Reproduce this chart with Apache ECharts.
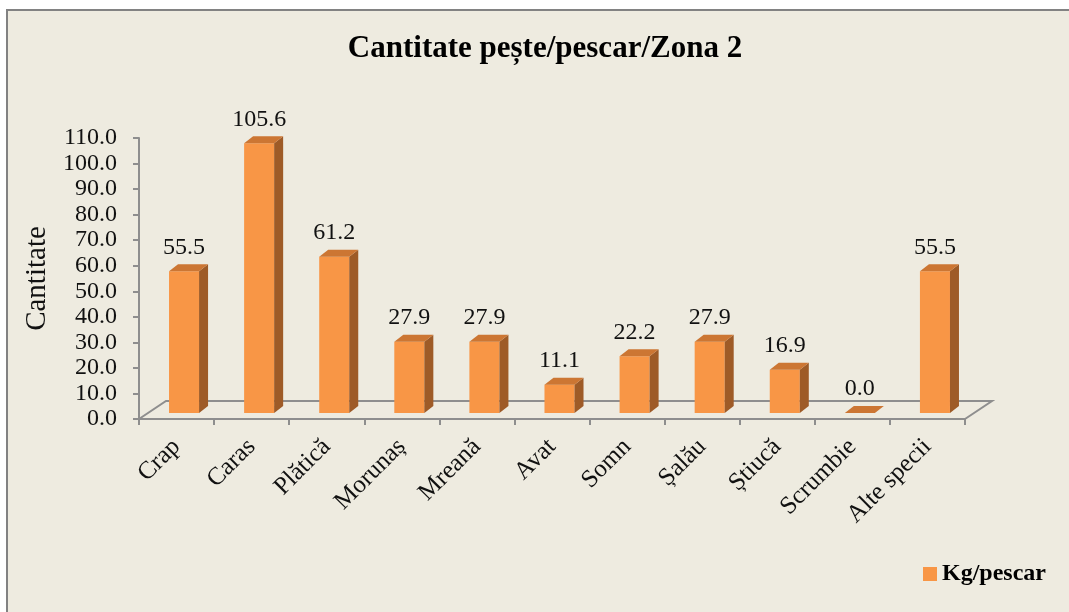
<!DOCTYPE html>
<html>
<head>
<meta charset="utf-8">
<script src="https://cdn.jsdelivr.net/npm/echarts@6/dist/echarts.min.js"></script>
<style>
html, body { margin: 0; padding: 0; background: #fff; }
#chart { width: 1069px; height: 612px; }
</style>
</head>
<body>
<div id="chart"></div>
<script>
var categories = ['Crap', 'Caras', 'Plătică', 'Morunaș', 'Mreană', 'Avat', 'Somn', 'Șalău', 'Știucă', 'Scrumbie', 'Alte specii'];
var kgPescar = [55.5, 105.6, 61.2, 27.9, 27.9, 11.1, 22.2, 27.9, 16.9, 0.0, 55.5];
var seriesName = 'Kg/pescar';

var serif = '"Liberation Serif", "Times New Roman", serif';
// 3d look: bars sit a bit behind the front axis line
var SHIFT = 7.5, LIFT = 6, DX = 9, DY = 7;
var FLOOR_DX = 27, FLOOR_DY = 18;

function renderBar(params, api) {
	var cat = api.value(0);
	var val = api.value(1);
	var base = api.coord([cat, 0]);
	var top = api.coord([cat, val]);
	var band = api.size([1, 0])[0];
	var w = band * 0.4;
	var x0 = base[0] + SHIFT - w / 2;
	var x1 = x0 + w;
	var yb = base[1] - LIFT;
	var yt = top[1] - LIFT;
	var children = [];
	if (yb - yt > 0.5) {
		children.push({
			type: 'rect',
			shape: { x: x0, y: yt, width: w, height: yb - yt },
			style: { fill: '#F89646' }
		});
		children.push({
			type: 'polygon',
			shape: { points: [[x1, yt], [x1 + DX, yt - DY], [x1 + DX, yb - DY], [x1, yb]] },
			style: { fill: '#9E5B27' }
		});
	}
	children.push({
		type: 'polygon',
		shape: { points: [[x0, yt], [x0 + DX, yt - DY], [x1 + DX, yt - DY], [x1, yt]] },
		style: { fill: '#CC7633' }
	});
	children.push({
		type: 'text',
		style: {
			text: val.toFixed(1),
			x: (x0 + x1) / 2,
			y: yt - DY - 5,
			align: 'center',
			verticalAlign: 'bottom',
			font: '24px ' + serif,
			fill: '#111'
		}
	});
	return { type: 'group', children: children };
}

function renderFloor(params, api) {
	var cs = params.coordSys;
	var L = cs.x, R = cs.x + cs.width, B = cs.y + cs.height;
	return {
		type: 'polyline',
		shape: { points: [[L, B], [L + FLOOR_DX, B - FLOOR_DY], [R + FLOOR_DX, B - FLOOR_DY], [R, B]] },
		style: { stroke: '#8E8E8E', lineWidth: 2, fill: null }
	};
}

var myChart = echarts.init(document.getElementById('chart'));
var option = {
	backgroundColor: 'transparent',
	animation: false,
	graphic: [{
		type: 'rect',
		z: -10,
		shape: { x: 7, y: 10, width: 1075, height: 610 },
		style: { fill: '#EEEBE0', stroke: '#828282', lineWidth: 2 }
	}],
	title: {
		text: 'Cantitate pește/pescar/Zona 2',
		left: 540,
		textAlign: 'center',
		top: 28,
		textStyle: { fontFamily: serif, fontWeight: 'bold', fontSize: 31, color: '#000' }
	},
	legend: {
		data: [seriesName],
		left: 918,
		top: 557,
		icon: 'rect',
		itemWidth: 14,
		itemHeight: 14,
		textStyle: { fontFamily: serif, fontWeight: 'bold', fontSize: 24, color: '#000' }
	},
	grid: { left: 139, right: 104, top: 138, bottom: 193 },
	xAxis: {
		type: 'category',
		data: categories,
		axisLine: { lineStyle: { color: '#8E8E8E', width: 2 } },
		axisTick: { show: true, length: 6, interval: 0, lineStyle: { color: '#8E8E8E', width: 2 } },
		axisLabel: {
			interval: 0,
			rotate: 45,
			margin: 24,
			fontFamily: serif,
			fontSize: 25,
			color: '#111'
		}
	},
	yAxis: {
		type: 'value',
		min: 0,
		max: 110,
		interval: 10,
		name: 'Cantitate',
		nameLocation: 'middle',
		nameRotate: 90,
		nameGap: 86,
		nameTextStyle: { fontFamily: serif, fontSize: 29, color: '#111' },
		splitLine: { show: false },
		axisLine: { show: true, lineStyle: { color: '#8E8E8E', width: 2 } },
		axisTick: { show: true, length: 6, lineStyle: { color: '#8E8E8E', width: 2 } },
		axisLabel: {
			margin: 22,
			fontFamily: serif,
			fontSize: 24,
			color: '#111',
			formatter: function (v) { return v.toFixed(1); }
		}
	},
	series: [{
		type: 'custom',
		name: 'floor',
		z: 1,
		silent: true,
		renderItem: renderFloor,
		data: [[0, 0]]
	}, {
		type: 'custom',
		name: seriesName,
		z: 3,
		itemStyle: { color: '#F89646' },
		renderItem: renderBar,
		encode: { x: 0, y: 1 },
		data: kgPescar.map(function (v, i) { return [i, v]; })
	}]
};
myChart.setOption(option);
</script>
</body>
</html>
